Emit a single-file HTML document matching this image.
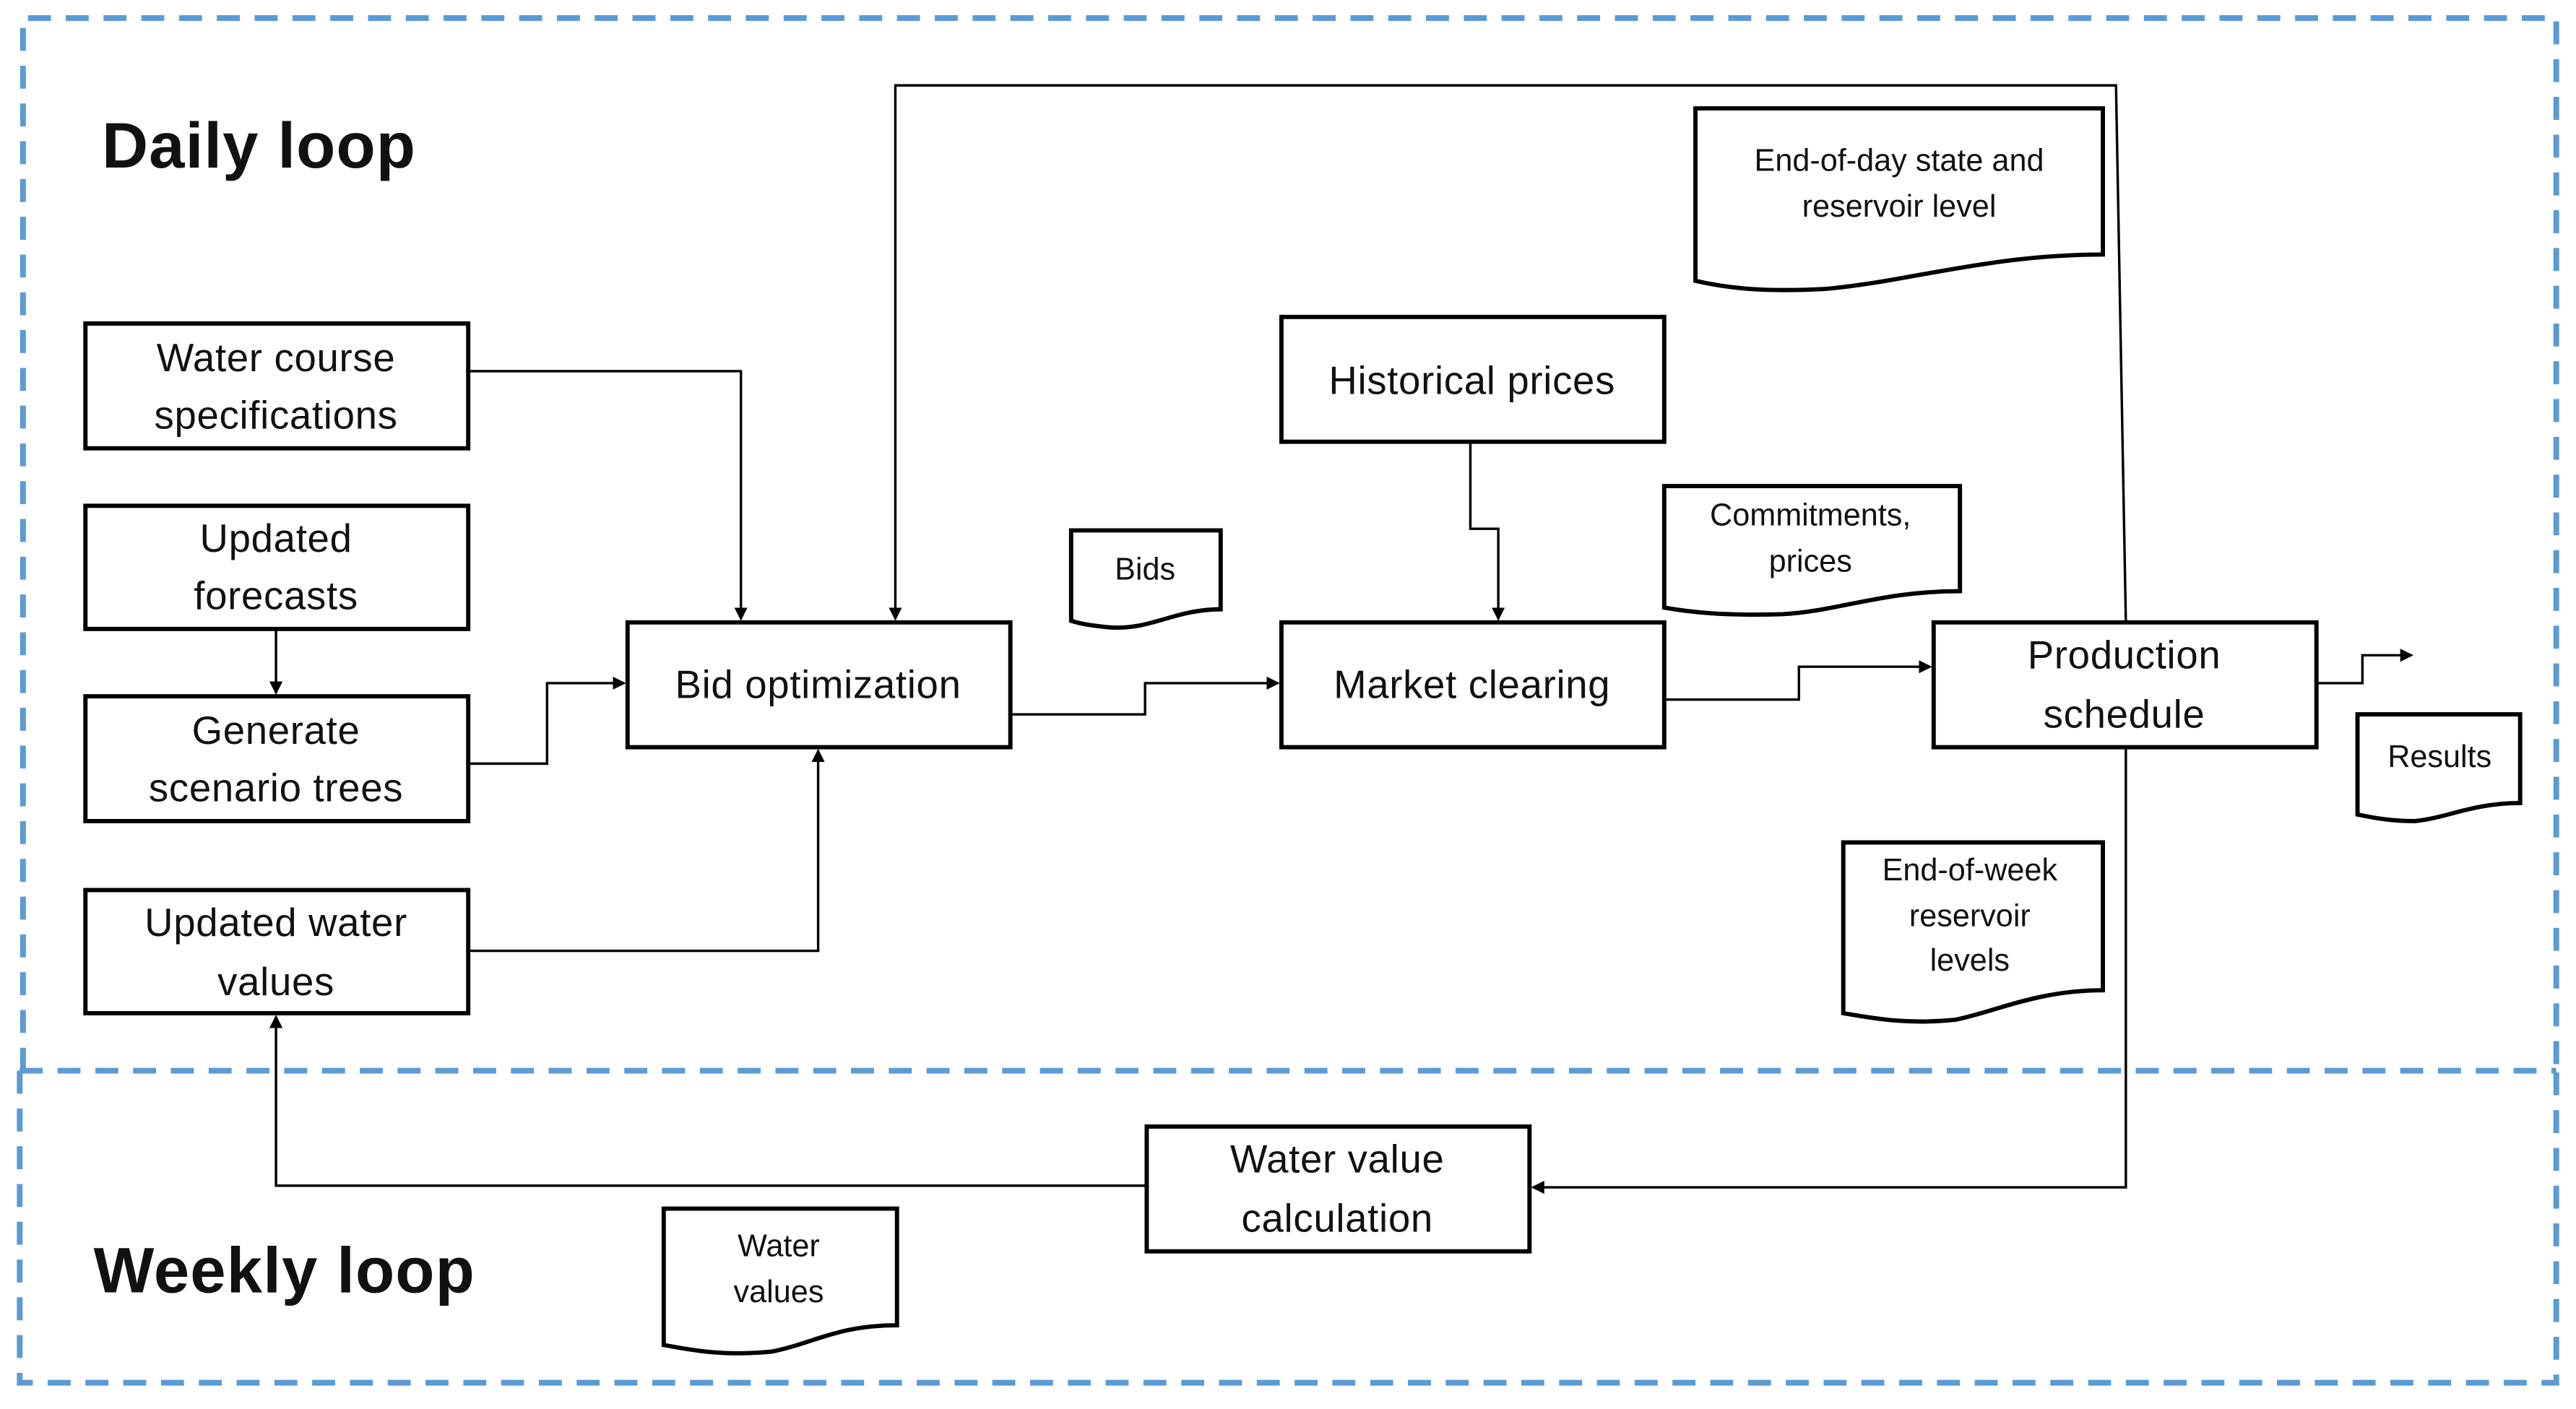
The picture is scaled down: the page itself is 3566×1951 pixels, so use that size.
<!DOCTYPE html>
<html><head><meta charset="utf-8"><style>
html,body{margin:0;padding:0;background:#fff;}
svg{display:block;}
text{font-family:"Liberation Sans",sans-serif;fill:#111;}
.b{fill:#fff;stroke:#000;stroke-width:2.6;}
.l{fill:none;stroke:#000;stroke-width:1.5;}
.d{fill:none;stroke:#5b9bd5;stroke-width:3.5;stroke-dasharray:14 9;}
.t{font-size:24px;text-anchor:middle;letter-spacing:0.3px;}
.s{font-size:19px;text-anchor:middle;}
</style></head><body>
<svg width="3566" height="1951" viewBox="0 0 1568 858" preserveAspectRatio="none" xmlns="http://www.w3.org/2000/svg">
<defs><marker id="a" markerWidth="8" markerHeight="8" refX="7" refY="4" orient="auto" markerUnits="userSpaceOnUse"><path d="M0,0 L8,4 L0,8 z" fill="#000"/></marker></defs>
<rect x="0" y="0" width="1568" height="858" fill="#fff"/>
<path class="d" d="M14,652 V11 H1556 V652"/>
<path class="d" d="M12,652 H1556"/>
<path class="d" d="M12,652 V842 H1556 V652"/>
<text x="62" y="102" style="font-size:39px;font-weight:bold;letter-spacing:0.5px">Daily loop</text>
<text x="57" y="787" style="font-size:39px;font-weight:bold;letter-spacing:0.5px">Weekly loop</text>

<path class="l" d="M285,226 H451 V377" marker-end="url(#a)"/>
<path class="l" d="M1294,379 L1288,52 H545 V377" marker-end="url(#a)"/>
<path class="l" d="M168,383 V422" marker-end="url(#a)"/>
<path class="l" d="M285,465 H333 V416 H380" marker-end="url(#a)"/>
<path class="l" d="M285,579 H498 V457" marker-end="url(#a)"/>
<path class="l" d="M615,435 H697 V416 H778" marker-end="url(#a)"/>
<path class="l" d="M895,269 V322 H912 V377" marker-end="url(#a)"/>
<path class="l" d="M1013,426 H1095 V406 H1175" marker-end="url(#a)"/>
<path class="l" d="M1410,416 H1438 V399 H1468" marker-end="url(#a)"/>
<path class="l" d="M1294,455 V723 H933" marker-end="url(#a)"/>
<path class="l" d="M698,722 H168 V619" marker-end="url(#a)"/>

<rect class="b" x="52" y="197" width="233" height="76"/>
<text class="t" x="168" y="226">Water course</text><text class="t" x="168" y="261">specifications</text>
<rect class="b" x="52" y="308" width="233" height="75"/>
<text class="t" x="168" y="336">Updated</text><text class="t" x="168" y="371">forecasts</text>
<rect class="b" x="52" y="424" width="233" height="76"/>
<text class="t" x="168" y="453">Generate</text><text class="t" x="168" y="488">scenario trees</text>
<rect class="b" x="52" y="542" width="233" height="75"/>
<text class="t" x="168" y="570">Updated water</text><text class="t" x="168" y="606">values</text>
<rect class="b" x="382" y="379" width="233" height="76"/>
<text class="t" x="498" y="425">Bid optimization</text>
<rect class="b" x="780" y="193" width="233" height="76"/>
<text class="t" x="896" y="240">Historical prices</text>
<rect class="b" x="780" y="379" width="233" height="76"/>
<text class="t" x="896" y="425">Market clearing</text>
<rect class="b" x="1177" y="379" width="233" height="76"/>
<text class="t" x="1293" y="407">Production</text><text class="t" x="1293" y="443">schedule</text>
<rect class="b" x="698" y="686" width="233" height="76"/>
<text class="t" x="814" y="714">Water value</text><text class="t" x="814" y="750">calculation</text>

<path class="b" d="M652,323 H743 V371 C715,371 700,384 675,382 C665,381 658,380 652,378 Z"/>
<text class="s" x="697" y="353">Bids</text>
<path class="b" d="M1032,66 H1280 V155 C1210,155 1160,172 1110,176 C1070,178 1050,175 1032,171 Z"/>
<text class="s" x="1156" y="104">End-of-day state and</text><text class="s" x="1156" y="132">reservoir level</text>
<path class="b" d="M1013,296 H1193 V360 C1145,360 1120,372 1085,374 C1050,375 1030,373 1013,370 Z"/>
<text class="s" x="1102" y="320">Commitments,</text><text class="s" x="1102" y="348">prices</text>
<path class="b" d="M1435,435 H1534 V489 C1505,489 1490,498 1470,500 C1455,500 1445,498 1435,496 Z"/>
<text class="s" x="1485" y="467">Results</text>
<path class="b" d="M1122,513 H1280 V603 C1240,603 1215,616 1190,621 C1160,624 1140,620 1122,617 Z"/>
<text class="s" x="1199" y="536">End-of-week</text><text class="s" x="1199" y="564">reservoir</text><text class="s" x="1199" y="591">levels</text>
<path class="b" d="M404,736 H546 V807 C510,807 495,818 470,823 C440,826 420,822 404,819 Z"/>
<text class="s" x="474" y="765">Water</text><text class="s" x="474" y="793">values</text>
</svg>
</body></html>
